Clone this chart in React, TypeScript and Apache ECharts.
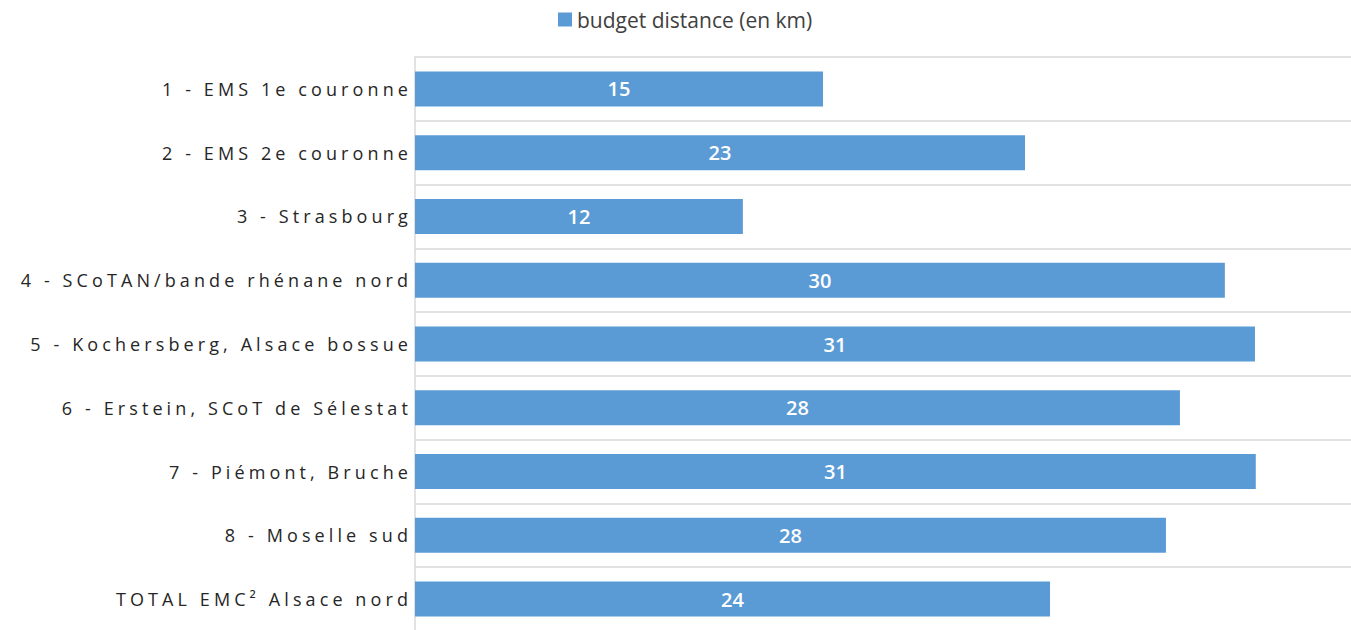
import React, { useEffect, useRef } from "react";
import * as echarts from "echarts";

const categories = [
  "1 - EMS 1e couronne",
  "2 - EMS 2e couronne",
  "3 - Strasbourg",
  "4 - SCoTAN/bande rhénane nord",
  "5 - Kochersberg, Alsace bossue",
  "6 - Erstein, SCoT de Sélestat",
  "7 - Piémont, Bruche",
  "8 - Moselle sud",
  "TOTAL EMC² Alsace nord",
];
const budgetDistance = [15.17, 22.68, 12.19, 30.11, 31.23, 28.44, 31.26, 27.92, 23.61];
const seriesName = "budget distance (en km)";

export default function App() {
  const ref = useRef<HTMLDivElement>(null);
  useEffect(() => {
    if (!ref.current) return;
    const chart = echarts.init(ref.current, null, { renderer: "svg" });
    chart.setOption({
      animation: false,
      backgroundColor: "#ffffff",
      legend: {
        data: [seriesName],
        left: 553,
        top: 4,
        icon: "rect",
        itemWidth: 14,
        itemHeight: 14,
        textStyle: { fontFamily: "Open Sans", fontSize: 21, color: "#404040" },
      },
      grid: {
        left: 415,
        top: 57,
        width: 936,
        height: 574,
        containLabel: false,
        outerBoundsMode: "none",
      },
      xAxis: {
        type: "value",
        min: 0,
        max: 34.8,
        show: false,
        splitLine: { show: false },
      },
      yAxis: {
        type: "category",
        data: categories,
        inverse: true,
        axisLine: { show: true, lineStyle: { color: "#d9d9d9", width: 1.5 } },
        axisTick: { show: false },
        splitLine: { show: true, lineStyle: { color: "#e2e2e2", width: 2 } },
        axisLabel: {
          margin: 3,
          fontFamily: "Open Sans",
          fontSize: 18,
          color: "#262626",
        },
      },
      series: [
        {
          name: seriesName,
          type: "bar",
          data: budgetDistance,
          barWidth: 35,
          itemStyle: { color: "#5b9bd5" },
          label: {
            show: true,
            position: "inside",
            color: "#ffffff",
            fontFamily: "Open Sans",
            fontWeight: 600,
            fontSize: 20,
            formatter: (p: any) => String(Math.round(p.value)),
          },
        },
      ],
    });
    const texts = ref.current.querySelectorAll("text");
    texts.forEach((t) => {
      if (categories.includes(t.textContent || "")) {
        t.setAttribute("letter-spacing", "4.1");
      }
    });
    return () => chart.dispose();
  }, []);
  return (
    <div
      ref={ref}
      style={{ position: "fixed", left: 0, top: 0, width: 1351, height: 630 }}
    />
  );
}
